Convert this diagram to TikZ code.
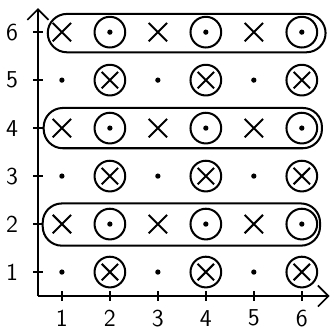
\documentclass[tikz,border=0pt]{standalone}
\usetikzlibrary{shapes.misc,arrows.meta,positioning,calc,fit}

\begin{document}
\begin{tikzpicture}[
  x=1cm, y=1cm,
  line width=1.2pt,
  xmark/.style={cross out, draw, minimum size=0.34cm, inner sep=0pt},
  ring/.style={circle, draw, minimum size=0.64cm, inner sep=0pt},
  pt/.style={circle, fill, minimum size=0.11cm, inner sep=0pt},
  band/.style={rectangle, draw, rounded corners=0.4cm, inner sep=0pt},
  lbl/.style={font=\sffamily\Large},
  >={Straight Barb[length=2.2mm, width=4.4mm]},
]
  \useasboundingbox (-0.29,-0.27) rectangle (6.65,6.67);

  % axes
  \coordinate (o) at (0.5,0.5);
  \coordinate (xend) at (6.58,0.5);
  \coordinate (yend) at (0.5,6.5);
  \draw[->, line width=1pt] (o) -- (xend);
  \draw[->, line width=1pt] (o) -- (yend);

  % ticks and numbers
  \foreach \k in {1,...,6} {
    \draw[line width=1pt] ($(\k,0.5)+(0,-0.1)$) -- ($(\k,0.5)+(0,0.1)$);
    \draw[line width=1pt] ($(0.5,\k)+(-0.1,0)$) -- ($(0.5,\k)+(0.1,0)$);
    \node[lbl] (xl-\k) at (\k,0.04) {\k};
    \node[lbl] (yl-\k) at (-0.04,\k) {\k};
  }

  % even rows: crosses and dotted rings
  \foreach \j in {2,4,6} {
    \foreach \i in {1,3,5}
      \node[xmark] (m-\i-\j) at (\i,\j) {};
    \foreach \i in {2,4,6} {
      \node[ring] (m-\i-\j) at (\i,\j) {};
      \node[pt] at (m-\i-\j) {};
    }
  }

  % odd rows: dots and crossed rings
  \foreach \j in {1,3,5} {
    \foreach \i in {1,3,5}
      \node[pt] (m-\i-\j) at (\i,\j) {};
    \foreach \i in {2,4,6} {
      \node[ring] (m-\i-\j) at (\i,\j) {};
      \node[xmark, minimum size=0.3cm] at (m-\i-\j) {};
    }
  }

  % bands round the even rows
  \node[band, minimum width=5.79cm, minimum height=0.8cm] (b6) at (3.6,5.98) {};
  \node[band, minimum width=5.8cm, minimum height=0.84cm] (b4) at (3.52,4.0) {};
  \node[band, minimum width=5.78cm, minimum height=0.88cm] (b2) at (3.49,1.99) {};
\end{tikzpicture}
\end{document}
